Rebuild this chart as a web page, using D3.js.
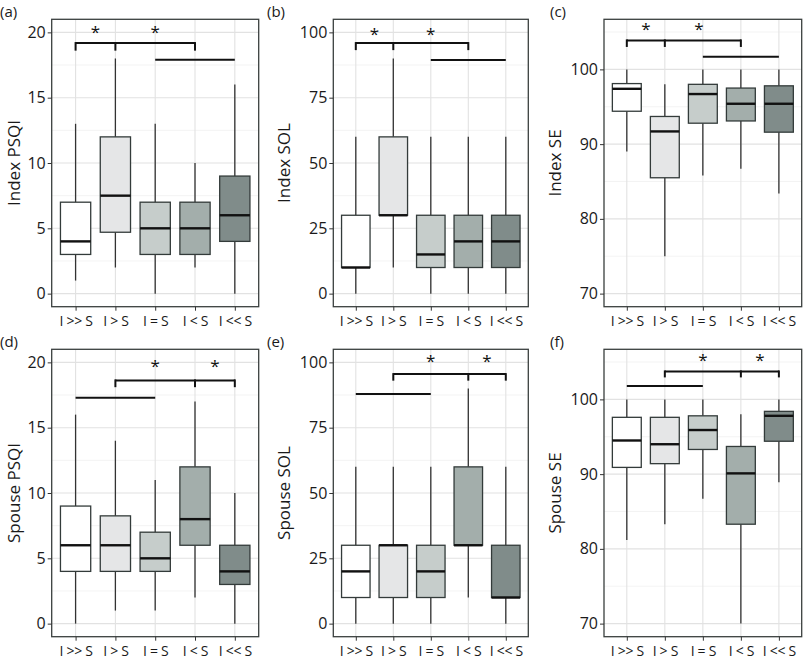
<!DOCTYPE html>
<html><head><meta charset="utf-8">
<script src="https://cdn.jsdelivr.net/npm/d3@7"></script>
<style>
body{margin:0;background:#fff;}
svg{display:block;font-family:"Open Sans",sans-serif;}
</style></head>
<body><svg id="chart" width="803" height="663"></svg>
<script>
// ---- data ----
const categories = ["I >> S", "I > S", "I = S", "I < S", "I << S"];
const boxFills = ["#ffffff", "#e5e6e7", "#c6cdcb", "#a3aeab", "#808c8a"];
const panelLabels = ["(a)", "(b)", "(c)", "(d)", "(e)", "(f)"];
const yTitles = ["Index PSQI", "Index SOL", "Index SE", "Spouse PSQI", "Spouse SOL", "Spouse SE"];
const psqiTicks = [0, 5, 10, 15, 20];
const solTicks = [0, 25, 50, 75, 100];
const seTicks = [70, 80, 90, 100];
// [lower whisker, Q1, median, Q3, upper whisker]
const indexPSQI = [[1,3,4,7,13],[2,4.7,7.5,12,18],[0,3,5,7,13],[2,3,5,7,10],[0,4,6,9,16]];
const indexSOL = [[0,10,10,30,60],[10,30,30,60,90],[0,10,15,30,60],[0,10,20,30,60],[0,10,20,30,60]];
const indexSE = [[89,94.4,97.4,98.1,100],[75,85.5,91.7,93.7,98],[85.8,92.8,96.7,98,100],[86.7,93.1,95.4,97.5,100],[83.4,91.6,95.4,97.8,100]];
const spousePSQI = [[0,4,6,9,16],[1,4,6,8.25,14],[1,4,5,7,11],[2,6,8,12,17],[0,3,4,6,10]];
const spouseSOL = [[0,10,20,30,60],[0,10,30,30,60],[0,10,20,30,60],[10,30,30,60,90],[0,10,10,30,60]];
const spouseSE = [[81.2,90.9,94.5,97.6,100],[83.3,91.4,94,97.6,100],[86.7,93.3,95.9,97.8,100],[70,83.3,90.1,93.7,98],[88.9,94.4,97.8,98.4,100]];
// significance annotations: bracket [from, to, y, tickEndY, tick categories], stars [[cat, y]], plain line [from, to, y]
const sigBrackets = [
  [0, 3, 19.18, 18.6, [0,1,3]], [0, 3, 95.9, 93.2, [0,1,3]], [0, 3, 103.88, 103.0, [0,1,3]],
  [1, 4, 18.62, 18.1, [1,3,4]], [1, 4, 95.5, 93.0, [1,3,4]], [1, 4, 103.74, 102.94, [1,3,4]]
];
const sigStars = [
  [[0.5, 20.23],[2, 20.23]], [[0.5, 100.6],[2, 100.6]], [[0.5, 105.8],[1.9, 105.8]],
  [[2, 19.95],[3.5, 19.95]], [[2, 101.7],[3.5, 101.7]], [[2, 105.7],[3.5, 105.7]]
];
const sigLines = [[2,4,17.9],[2,4,89.4],[2,4,101.7],[0,2,17.3],[0,2,87.9],[0,2,101.8]];

const panelData = [indexPSQI, indexSOL, indexSE, spousePSQI, spouseSOL, spouseSE];
const panelTicks = [psqiTicks, solTicks, seTicks, psqiTicks, solTicks, seTicks];
const panelDomains = [[-1,21],[-5,105],[68.25,106.7],[-1,21],[-5,105],[68.25,106.7]];

// ---- layout ----
const colX = [[51.7,258.7],[333.3,528.3],[604,801.7]];
const rowY = [[19.3,306.7],[349.3,636.7]];
const titleX = [20, 290, 561];
const labelX = [0, 267, 550];

const svg = d3.select("#chart");

panelData.forEach((data, p) => {
  const col = p % 3, row = Math.floor(p / 3);
  const [x0, x1] = colX[col], [y0, y1] = rowY[row];
  const g = svg.append("g");
  const x = d3.scalePoint().domain(d3.range(categories.length)).range([x0, x1]).padding(0.6);
  const step = x.step();
  const xc = v => x0 + (v + 0.6) * step;
  const y = d3.scaleLinear().domain(panelDomains[p]).range([y1, y0]);
  const ticks = panelTicks[p];
  const tStep = ticks[1] - ticks[0];
  const minor = [];
  for (let t = ticks[0] - tStep / 2; t <= panelDomains[p][1]; t += tStep) {
    if (t >= panelDomains[p][0]) minor.push(t);
  }
  // grid
  g.selectAll(".minor").data(minor).enter().append("line")
    .attr("x1", x0).attr("x2", x1).attr("y1", d => y(d)).attr("y2", d => y(d))
    .attr("stroke", "#f0f0f0").attr("stroke-width", 0.8);
  g.selectAll(".major").data(ticks).enter().append("line")
    .attr("x1", x0).attr("x2", x1).attr("y1", d => y(d)).attr("y2", d => y(d))
    .attr("stroke", "#e2e2e2").attr("stroke-width", 1.1);
  g.selectAll(".vmajor").data(d3.range(categories.length)).enter().append("line")
    .attr("x1", d => x(d)).attr("x2", d => x(d)).attr("y1", y0).attr("y2", y1)
    .attr("stroke", "#e2e2e2").attr("stroke-width", 1.1);

  // boxes
  const bw = step * 0.76;
  const bg = g.selectAll(".box").data(data).enter().append("g");
  bg.append("line").attr("x1", (d,i) => x(i)).attr("x2", (d,i) => x(i))
    .attr("y1", d => y(d[0])).attr("y2", d => y(d[1])).attr("stroke", "#333").attr("stroke-width", 1.3);
  bg.append("line").attr("x1", (d,i) => x(i)).attr("x2", (d,i) => x(i))
    .attr("y1", d => y(d[3])).attr("y2", d => y(d[4])).attr("stroke", "#333").attr("stroke-width", 1.3);
  bg.append("rect").attr("x", (d,i) => x(i) - bw/2).attr("width", bw)
    .attr("y", d => y(d[3])).attr("height", d => y(d[1]) - y(d[3]))
    .attr("fill", (d,i) => boxFills[i]).attr("stroke", "#333b3a").attr("stroke-width", 1.3);
  bg.append("line").attr("x1", (d,i) => x(i) - bw/2).attr("x2", (d,i) => x(i) + bw/2)
    .attr("y1", d => y(d[2])).attr("y2", d => y(d[2])).attr("stroke", "#111").attr("stroke-width", 2.4);

  // significance
  const br = sigBrackets[p];
  g.append("line").attr("x1", xc(br[0])).attr("x2", xc(br[1])).attr("y1", y(br[2])).attr("y2", y(br[2]))
    .attr("stroke", "#111").attr("stroke-width", 2);
  g.selectAll(".btick").data(br[4]).enter().append("line")
    .attr("x1", d => xc(d)).attr("x2", d => xc(d)).attr("y1", y(br[2]) - 1).attr("y2", y(br[3]))
    .attr("stroke", "#111").attr("stroke-width", 2);
  const ln = sigLines[p];
  g.append("line").attr("x1", xc(ln[0])).attr("x2", xc(ln[1])).attr("y1", y(ln[2])).attr("y2", y(ln[2]))
    .attr("stroke", "#111").attr("stroke-width", 2);
  g.selectAll(".star").data(sigStars[p]).enter().append("text")
    .attr("x", d => xc(d[0])).attr("y", d => y(d[1]) + 9).attr("text-anchor", "middle")
    .attr("font-size", 17).attr("fill", "#111").text("*");

  // border
  g.append("rect").attr("x", x0).attr("y", y0).attr("width", x1 - x0).attr("height", y1 - y0)
    .attr("fill", "none").attr("stroke", "#3a3f3e").attr("stroke-width", 1.3);

  // axes
  const ya = g.append("g").attr("transform", `translate(${x0},0)`)
    .call(d3.axisLeft(y).tickValues(ticks).tickSize(4).tickPadding(2).tickFormat(d3.format("d")));
  ya.select(".domain").remove();
  ya.selectAll("line").attr("stroke", "#333");
  ya.selectAll("text").attr("font-size", 16).attr("fill", "#1a1a1a").attr("font-family", "Open Sans");
  const xa = g.append("g").attr("transform", `translate(0,${y1})`)
    .call(d3.axisBottom(x).tickSize(4).tickPadding(5).tickFormat(i => categories[i]));
  xa.select(".domain").remove();
  xa.selectAll("line").attr("stroke", "#333");
  xa.selectAll("text").attr("font-size", 14).attr("fill", "#1a1a1a").attr("font-family", "Open Sans")
    .attr("letter-spacing", -0.3);

  // titles
  g.append("text").attr("transform", `translate(${titleX[col]},${(y0 + y1) / 2}) rotate(-90)`)
    .attr("text-anchor", "middle").attr("font-size", 17).attr("fill", "#1a1a1a").text(yTitles[p]);
  g.append("text").attr("x", labelX[col]).attr("y", row === 0 ? 16.5 : 347)
    .attr("font-size", 15).attr("fill", "#1a1a1a").text(panelLabels[p]);
});
</script></body></html>
